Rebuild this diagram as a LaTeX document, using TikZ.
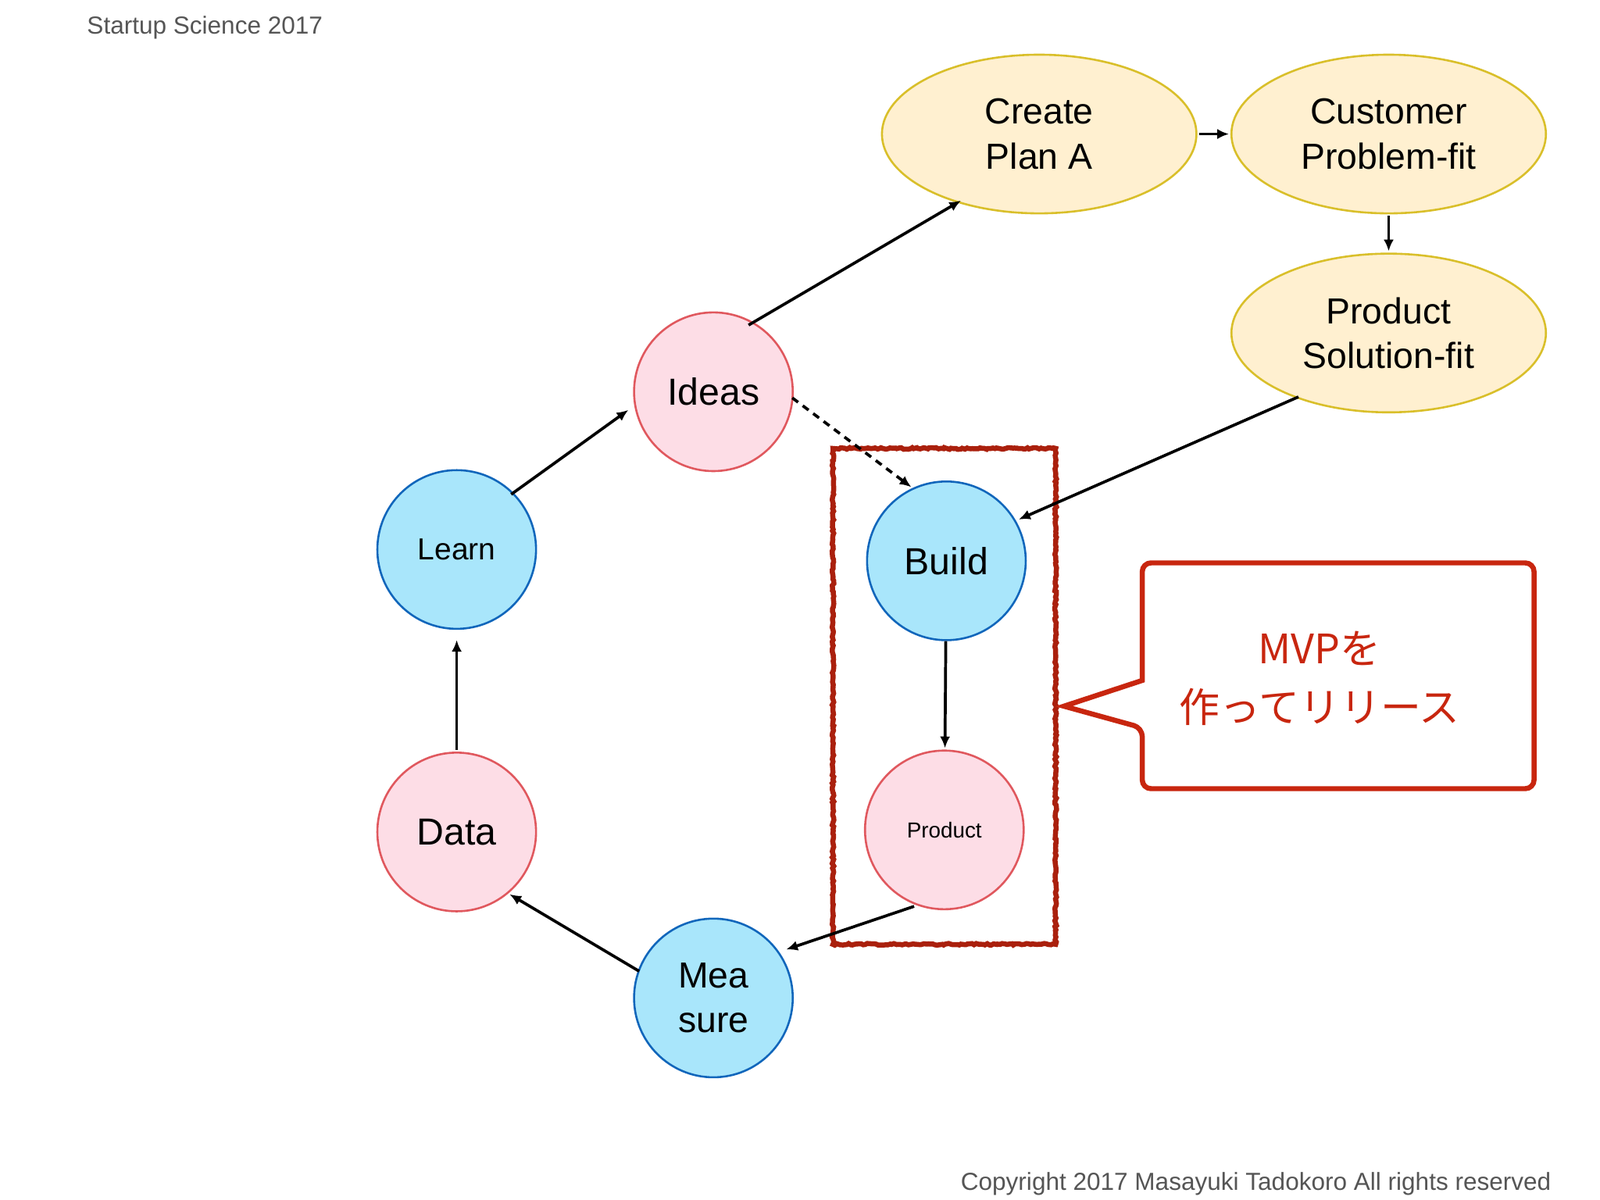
\documentclass[tikz,border=0pt]{standalone}
\usepackage{fontspec}
\setmainfont{Liberation Sans}
\newfontfamily\cjk{Noto Sans CJK JP}
\usetikzlibrary{arrows.meta,decorations.pathmorphing}
\definecolor{pinkf}{HTML}{FDDDE6}
\definecolor{pinkd}{HTML}{E0585E}
\definecolor{bluef}{HTML}{A9E6FB}
\definecolor{blued}{HTML}{1166BB}
\definecolor{yelf}{HTML}{FFF0D0}
\definecolor{yeld}{HTML}{D9BF2A}
\definecolor{redd}{HTML}{C8260F}
\definecolor{gtxt}{HTML}{555555}
\tikzset{
  pc/.style={circle,draw=pinkd,fill=pinkf,line width=2.8pt,minimum size=219pt,inner sep=0pt,align=center},
  bc/.style={circle,draw=blued,fill=bluef,line width=2.8pt,minimum size=219pt,inner sep=0pt,align=center},
  el/.style={ellipse,draw=yeld,fill=yelf,line width=2.8pt,minimum width=434pt,minimum height=219pt,inner sep=0pt,align=center,font=\fontsize{50}{62}\selectfont},
  big/.style={font=\fontsize{52}{62}\selectfont},
  arr/.style={-{Latex[length=16pt,width=14pt]},line width=4pt,black},
}
\usetikzlibrary{shapes.geometric}
\begin{document}
\begin{tikzpicture}[x=0.05cm,y=-0.05cm]
\useasboundingbox (0,0) rectangle (1552,1164);
\fill[white] (0,0) rectangle (1552,1164);
\node[anchor=west,text=gtxt,font=\fontsize{34}{40}\selectfont] (hdr) at (82,27) {Startup Science 2017};
\node[anchor=east,text=gtxt,font=\fontsize{34}{40}\selectfont] (cpy) at (1507,1148) {Copyright 2017 Masayuki Tadokoro All rights reserved};
% red rough box
\draw[redd!85!black,line width=7pt,decorate,decoration={random steps,segment length=3pt,amplitude=1.2pt}] (808,435) rectangle (1024,916);
\node[el] (plan) at (1008,130) {Create\\Plan A};
\node[el] (cust) at (1347,130) {Customer\\Problem-fit};
\node[el] (sol) at (1347,323) {Product\\Solution-fit};
\node[pc,big] (ideas) at (692,380) {Ideas};
\node[bc,font=\fontsize{42}{50}\selectfont] (learn) at (443,533) {Learn};
\node[bc,big] (build) at (918,544) {Build};
\node[pc,font=\fontsize{30}{36}\selectfont] (prod) at (916,805) {Product};
\node[pc,big] (data) at (443,807) {Data};
\node[bc,font=\fontsize{50}{62}\selectfont] (meas) at (692,968) {Mea\\sure};
% arrows
\draw[arr,shorten <=-8pt,shorten >=-6pt] (ideas.60) -- (plan.220);
\draw[arr,shorten <=2pt,shorten >=2pt] (plan) -- (cust);
\draw[arr,shorten <=2pt,shorten >=2pt] (cust) -- (sol);
\draw[arr,shorten <=-4pt,shorten >=4pt] (sol.215) -- (build.30);
\draw[arr,dashed,dash pattern=on 10pt off 8pt,shorten <=-2pt,shorten >=2pt] (ideas.-5) -- (build.115);
\draw[arr,shorten >=2pt] (build) -- (prod);
\draw[arr,shorten <=4pt,shorten >=10pt] (prod.250) -- (meas.35);
\draw[arr,shorten <=-2pt,shorten >=2pt] (meas.160) -- (data.-50);
\draw[arr,shorten <=2pt,shorten >=14pt] (data) -- (learn);
\draw[arr,shorten <=-4pt,shorten >=10pt] (learn.45) -- (ideas.190);
% callout
\draw[redd,line width=7pt,rounded corners=12pt,fill=white] (1108,660) -- (1108,546) -- (1488,546) -- (1488,765) -- (1108,765) -- (1108,706) [sharp corners]-- (1032,685) -- cycle;
\node[text=redd,font=\cjk\fontsize{56}{80}\selectfont,align=center] (mvp) at (1280,658) {MVPを\\作ってリリース};
\end{tikzpicture}
\end{document}
